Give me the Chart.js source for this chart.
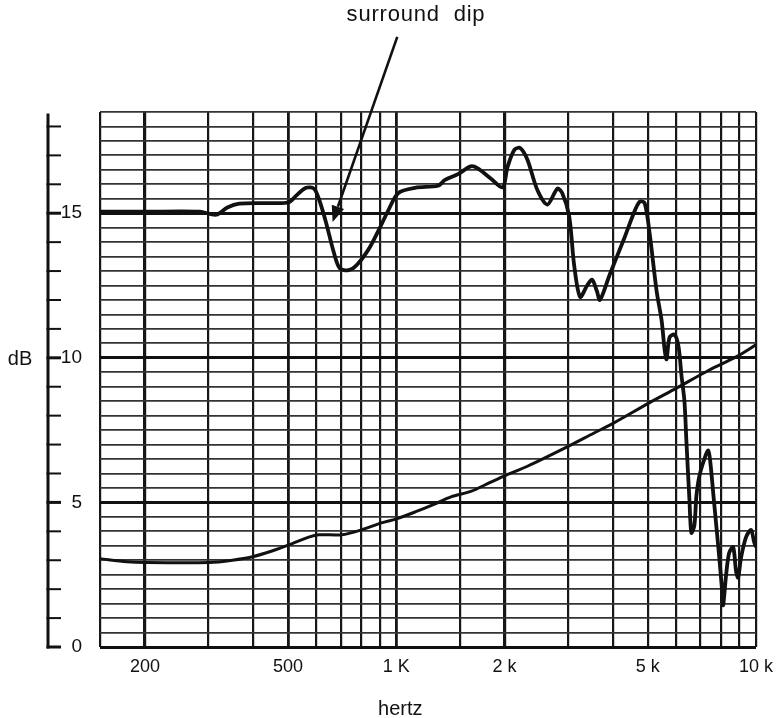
<!DOCTYPE html>
<html><head><meta charset="utf-8">
<script src="https://cdn.jsdelivr.net/npm/chart.js@4.4.1/dist/chart.umd.min.js"></script>
<style>html,body{margin:0;padding:0;background:#fff;}canvas{display:block;}</style>
</head><body>
<canvas id="c" width="782" height="718"></canvas>
<script>
// ---- data ----
const responseFreq = [150,200,284,316,339,366,443,503,526,561,590,609,637,670,696,737,775,837,892,950,1013,1128,1306,1366,1484,1611,1684,1830,1975,2038,2131,2214,2315,2467,2630,2803,2892,3024,3122,3243,3392,3501,3612,3683,3926,4292,4573,4750,4904,5062,5294,5464,5570,5641,5748,5934,6088,6205,6325,6406,6530,6612,6740,6826,6956,7184,7369,7464,7608,7755,7904,8055,8106,8260,8420,8641,8806,8919,9090,9384,9687,9874,10000];
const responseDb   = [15.05,15.05,15.05,14.95,15.2,15.33,15.35,15.38,15.6,15.88,15.85,15.5,14.7,13.65,13.1,13.03,13.2,13.75,14.4,15.1,15.7,15.88,15.95,16.15,16.35,16.62,16.55,16.2,15.9,16.6,17.2,17.25,16.85,15.8,15.3,15.85,15.7,14.9,13.2,12.1,12.5,12.7,12.3,12.0,12.9,14.1,15.0,15.4,15.35,14.3,12.3,11.3,10.3,9.95,10.7,10.8,10.4,9.4,8.5,7.1,5.1,3.95,4.2,5.2,5.9,6.5,6.8,6.4,5.3,4.2,3.1,1.9,1.45,2.5,3.25,3.45,2.6,2.4,3.1,3.8,4.05,3.65,3.45];
const impedanceFreq = [150,178,200,302,350,398,451,503,571,609,705,800,909,1000,1128,1282,1419,1611,1830,2000,2315,2985,3546,4027,5062,6011,7416,8806,10000];
const impedanceDb   = [3.05,2.95,2.92,2.92,3.0,3.12,3.32,3.53,3.8,3.88,3.88,4.05,4.29,4.43,4.67,4.95,5.19,5.38,5.7,5.92,6.25,6.92,7.4,7.75,8.45,8.95,9.58,10.03,10.45];
const gridFreqs = [150,200,300,400,500,600,700,800,900,1000,1500,2000,3000,4000,5000,6000,7000,8000,9000,10000];
const xTickLabels = {200:'200',500:'500',1000:'1 K',2000:'2 k',5000:'5 k',10000:'10 k'};
const yLabelValues = [0,5,10,15];
const rulerValues = [0,1,2,3,4,5,6,7,8,9,10,11,12,13,14,15,16,17,18];
const annotationText = 'surround  dip';
const xTitle = 'hertz';
const yTitle = 'dB';
const arrowTail = {x: 1006, y: 21.1};
const arrowTip  = {x: 665,  y: 14.7};

const INK = '#111';
const FONT = '"Liberation Sans", Arial, Helvetica, sans-serif';

const extras = {
  id: 'extras',
  afterDraw(chart) {
    const {ctx, scales: {x, y}} = chart;
    ctx.save();
    // ruler (y axis line with ticks)
    const rx = 48;
    ctx.strokeStyle = INK;
    ctx.lineWidth = 3;
    ctx.beginPath();
    ctx.moveTo(rx, y.getPixelForValue(18.45));
    ctx.lineTo(rx, y.getPixelForValue(0) + 1.5);
    ctx.stroke();
    rulerValues.forEach(v => {
      const py = y.getPixelForValue(v);
      ctx.lineWidth = (v % 5 === 0) ? 3 : 2;
      ctx.beginPath();
      ctx.moveTo(rx - 1.5, py);
      ctx.lineTo(61, py);
      ctx.stroke();
    });
    // axis titles
    ctx.fillStyle = INK;
    ctx.font = '20px ' + FONT;
    ctx.textAlign = 'center';
    ctx.textBaseline = 'middle';
    ctx.fillText(yTitle, 20, y.getPixelForValue(10) + 2);
    ctx.textBaseline = 'alphabetic';
    ctx.fillText(xTitle, x.getPixelForValue(1000) + 4, 715);
    // annotation
    ctx.font = '22px ' + FONT;
    ctx.letterSpacing = '0.8px';
    ctx.fillText(annotationText, 416, 21);
    ctx.letterSpacing = '0px';
    const tx = x.getPixelForValue(arrowTail.x), ty = y.getPixelForValue(arrowTail.y);
    const hx = x.getPixelForValue(arrowTip.x),  hy = y.getPixelForValue(arrowTip.y);
    const ang = Math.atan2(hy - ty, hx - tx);
    const headLen = 16, headW = 6.5;
    const bx = hx - headLen * Math.cos(ang), by = hy - headLen * Math.sin(ang);
    ctx.lineWidth = 2.6;
    ctx.beginPath();
    ctx.moveTo(tx, ty);
    ctx.lineTo(bx, by);
    ctx.stroke();
    ctx.beginPath();
    ctx.moveTo(hx, hy);
    ctx.lineTo(bx + headW * Math.sin(ang), by - headW * Math.cos(ang));
    ctx.lineTo(bx - headW * Math.sin(ang), by + headW * Math.cos(ang));
    ctx.closePath();
    ctx.fill();
    ctx.restore();
  }
};

new Chart(document.getElementById('c'), {
  type: 'line',
  data: {
    datasets: [
      {
        label: 'response',
        data: responseFreq.map((f, i) => ({x: f, y: responseDb[i]})),
        borderColor: INK, borderWidth: 3.8, pointRadius: 0, tension: 0.3, fill: false
      },
      {
        label: 'impedance',
        data: impedanceFreq.map((f, i) => ({x: f, y: impedanceDb[i]})),
        borderColor: INK, borderWidth: 3, pointRadius: 0, tension: 0.3, fill: false
      }
    ]
  },
  options: {
    responsive: false,
    animation: false,
    events: [],
    layout: {padding: {left: 40, top: 112, right: 20, bottom: 41}},
    plugins: {legend: {display: false}, tooltip: {enabled: false}, title: {display: false}},
    scales: {
      x: {
        type: 'logarithmic',
        min: 150, max: 10000,
        afterBuildTicks: s => { s.ticks = gridFreqs.map(v => ({value: v})); },
        afterFit: s => { s.height = 30; },
        border: {display: false},
        grid: {
          drawTicks: false,
          color: '#161616',
          lineWidth: c => {
            const v = c.tick ? c.tick.value : 0;
            if (v === 200 || v === 2000) return 3.2;
            if (v === 500 || v === 1000) return 2.8;
            return 2.2;
          }
        },
        ticks: {
          autoSkip: false, maxRotation: 0, padding: 9,
          color: INK, font: {family: FONT, size: 18},
          callback: v => xTickLabels[v] || ''
        }
      },
      y: {
        type: 'linear',
        min: 0, max: 18.5,
        afterFit: s => { s.width = 60; },
        border: {display: false},
        grid: {
          drawTicks: false,
          color: c => (c.tick && c.tick.value % 5 === 0) ? '#111' : '#333',
          lineWidth: c => (c.tick && c.tick.value % 5 === 0) ? 3 : 1.8
        },
        ticks: {
          stepSize: 0.5, autoSkip: false, padding: 18,
          color: INK, font: {family: FONT, size: 19},
          callback: v => yLabelValues.includes(v) ? String(v) : ''
        }
      }
    }
  },
  plugins: [extras]
});
</script>
</body></html>
